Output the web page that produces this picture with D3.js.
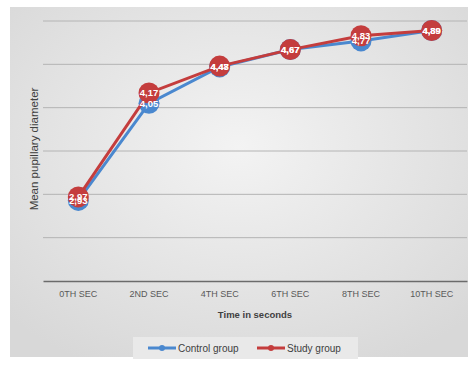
<!DOCTYPE html>
<html>
<head>
<meta charset="utf-8">
<script src="https://cdn.jsdelivr.net/npm/d3@7"></script>
<style>
  body { margin: 0; background: #fff; }
  svg { display: block; }
</style>
</head>
<body>
<svg id="chart" width="475" height="365"></svg>
<script>
const categories = ['0TH SEC', '2ND SEC', '4TH SEC', '6TH SEC', '8TH SEC', '10TH SEC'];
const controlGroup = [2.93, 4.05, 4.47, 4.67, 4.77, 4.89];
const studyGroup = [2.97, 4.17, 4.48, 4.67, 4.83, 4.89];
const yTicks = [2, 2.5, 3, 3.5, 4, 4.5, 5];

const series = [
  { name: 'Control group', values: controlGroup, color: '#4a88cf' },
  { name: 'Study group', values: studyGroup, color: '#c43d3d' }
];

const svg = d3.select('#chart');
const plotLeft = 43, plotRight = 467, plotTop = 21, plotBottom = 281;

// background gradient
const defs = svg.append('defs');
const grad = defs.append('radialGradient').attr('id', 'bg')
  .attr('cx', '50%').attr('cy', '40%').attr('r', '70%');
grad.append('stop').attr('offset', '0%').attr('stop-color', '#f3f3f3');
grad.append('stop').attr('offset', '100%').attr('stop-color', '#d8d8d8');

svg.append('rect')
  .attr('x', 10).attr('y', 7).attr('width', 458).attr('height', 350)
  .attr('fill', 'url(#bg)');

const x = d3.scaleBand().domain(categories).range([plotLeft, plotRight]);
const y = d3.scaleLinear().domain([2, 5]).range([plotBottom, plotTop]);

// gridlines
svg.append('g').selectAll('line').data(yTicks.slice(1)).enter().append('line')
  .attr('x1', plotLeft).attr('x2', plotRight)
  .attr('y1', d => y(d)).attr('y2', d => y(d))
  .attr('stroke', '#b4b4b4').attr('stroke-width', 1);

// x axis
const xAxis = svg.append('g')
  .attr('transform', `translate(0,${plotBottom})`)
  .call(d3.axisBottom(x).tickSize(0).tickPadding(10));
xAxis.select('.domain').attr('stroke', '#6b6b6b').attr('stroke-width', 1.5);
xAxis.selectAll('text')
  .attr('fill', '#595959')
  .attr('font-family', 'Liberation Sans, Arial, sans-serif')
  .attr('font-size', '9px');

svg.append('text')
  .attr('x', (plotLeft + plotRight) / 2).attr('y', 318)
  .attr('text-anchor', 'middle')
  .attr('font-family', 'Liberation Sans, Arial, sans-serif')
  .attr('font-size', '9.5px').attr('font-weight', 'bold')
  .attr('fill', '#404040')
  .text('Time in seconds');

svg.append('text')
  .attr('transform', 'translate(38,149) rotate(-90)')
  .attr('text-anchor', 'middle')
  .attr('font-family', 'Liberation Sans, Arial, sans-serif')
  .attr('font-size', '11.5px')
  .attr('fill', '#404040')
  .text('Mean pupillary diameter');

// lines and markers
const line = d3.line()
  .x((d, i) => x(categories[i]) + x.bandwidth() / 2)
  .y(d => y(d));

series.forEach(s => {
  const g = svg.append('g');
  g.append('path').datum(s.values)
    .attr('d', line)
    .attr('fill', 'none')
    .attr('stroke', s.color)
    .attr('stroke-width', 3);
  g.selectAll('circle').data(s.values).enter().append('circle')
    .attr('cx', (d, i) => x(categories[i]) + x.bandwidth() / 2)
    .attr('cy', d => y(d))
    .attr('r', 10.5)
    .attr('fill', s.color);
});

series.forEach(s => {
  svg.append('g').selectAll('text').data(s.values).enter().append('text')
    .attr('x', (d, i) => x(categories[i]) + x.bandwidth() / 2)
    .attr('y', d => y(d) + 3.5)
    .attr('text-anchor', 'middle')
    .attr('font-family', 'Liberation Sans, Arial, sans-serif')
    .attr('font-size', '9.5px').attr('font-weight', 'bold')
    .attr('fill', '#fff')
    .text(d => d.toFixed(2).replace('.', ','));
});

// legend
const legend = svg.append('g');
legend.append('rect')
  .attr('x', 133).attr('y', 337).attr('width', 225).attr('height', 22)
  .attr('fill', '#e9e9e9');
const legendX = [148, 257];
series.forEach((s, i) => {
  const lg = legend.append('g').attr('transform', `translate(${legendX[i]},348)`);
  lg.append('line').attr('x1', 0).attr('x2', 28).attr('stroke', s.color).attr('stroke-width', 3);
  lg.append('circle').attr('cx', 14).attr('r', 3).attr('fill', s.color);
  lg.append('text')
    .attr('x', 30).attr('y', 3.5)
    .attr('font-family', 'Liberation Sans, Arial, sans-serif')
    .attr('font-size', '10px')
    .attr('fill', '#404040')
    .text(s.name);
});
</script>
</body>
</html>
